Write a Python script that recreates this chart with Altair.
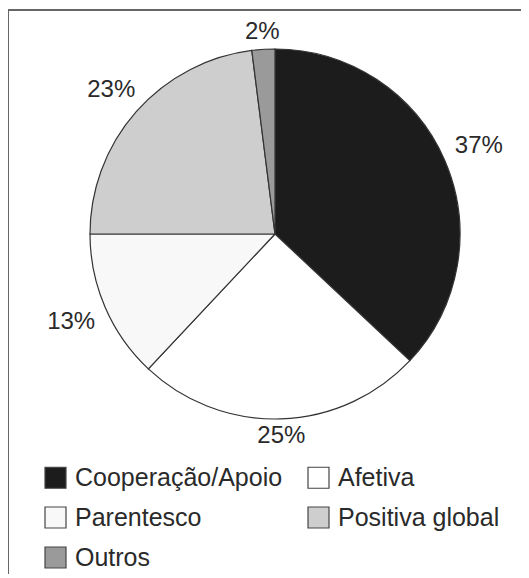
import altair as alt
import pandas as pd

categories = ["Cooperação/Apoio", "Afetiva", "Parentesco", "Positiva global", "Outros"]
values = [37, 25, 13, 23, 2]
labels = ["37%", "25%", "13%", "23%", "2%"]
colors = ["#1c1c1c", "#ffffff", "#f8f8f8", "#cecece", "#9a9a9a"]

# legend is laid out column-major by Vega; this order reads row-major as in the reference
legend_order = ["Cooperação/Apoio", "Parentesco", "Outros", "Afetiva", "Positiva global"]
color_of = dict(zip(categories, colors))

df = pd.DataFrame({
    "cat": categories,
    "val": values,
    "lab": labels,
    "idx": list(range(len(categories))),
})

CX, CY, R = 267, 226, 185
FONT = "Liberation Sans"

base = alt.Chart(df)

pie = base.mark_arc(radius=R, stroke="#333333", strokeWidth=1.2).encode(
    theta=alt.Theta("val:Q", stack=True),
    order=alt.Order("idx:Q"),
    color=alt.Color(
        "cat:N",
        scale=alt.Scale(domain=legend_order, range=[color_of[c] for c in legend_order]),
        legend=alt.Legend(
            title=None,
            orient="none",
            legendX=35,
            legendY=457,
            columns=2,
            columnPadding=22,
            rowPadding=13,
            padding=0,
            symbolType="square",
            symbolSize=441,
            symbolStrokeColor="#444444",
            symbolStrokeWidth=1.2,
            labelFont=FONT,
            labelFontSize=25,
            labelColor="#2a2a2a",
            labelOffset=7,
            labelLimit=400,
        ),
    ),
    x=alt.value(CX),
    y=alt.value(CY),
)

text = base.transform_window(
    cum="sum(val)", sort=[alt.SortField("idx")]
).transform_joinaggregate(
    tot="sum(val)"
).transform_calculate(
    mid="(datum.cum - datum.val/2) / datum.tot * 2 * PI"
).transform_calculate(
    lr="201 + 23*abs(sin(datum.mid))"
).transform_calculate(
    lx=f"{CX} + datum.lr*sin(datum.mid)",
    ly=f"{CY} - datum.lr*cos(datum.mid)",
).mark_text(font=FONT, fontSize=24, color="#2a2a2a", align="center", baseline="middle").encode(
    x=alt.X("lx:Q", scale=None, axis=None),
    y=alt.Y("ly:Q", scale=None, axis=None),
    text="lab:N",
)

frame_top = base.mark_rule(color="#666666", strokeWidth=2).encode(
    x=alt.value(0), x2=alt.value(513), y=alt.value(2)
)
frame_left = base.mark_rule(color="#666666", strokeWidth=2).encode(
    x=alt.value(0), y=alt.value(2), y2=alt.value(566)
)

chart = alt.layer(pie, text, frame_top, frame_left).properties(
    width=513, height=566, autosize=alt.AutoSizeParams(type="none"), padding=0,
    background="white",
).configure_view(stroke=None)

chart.save("out.html", embed_options={"renderer": "svg", "actions": False})
